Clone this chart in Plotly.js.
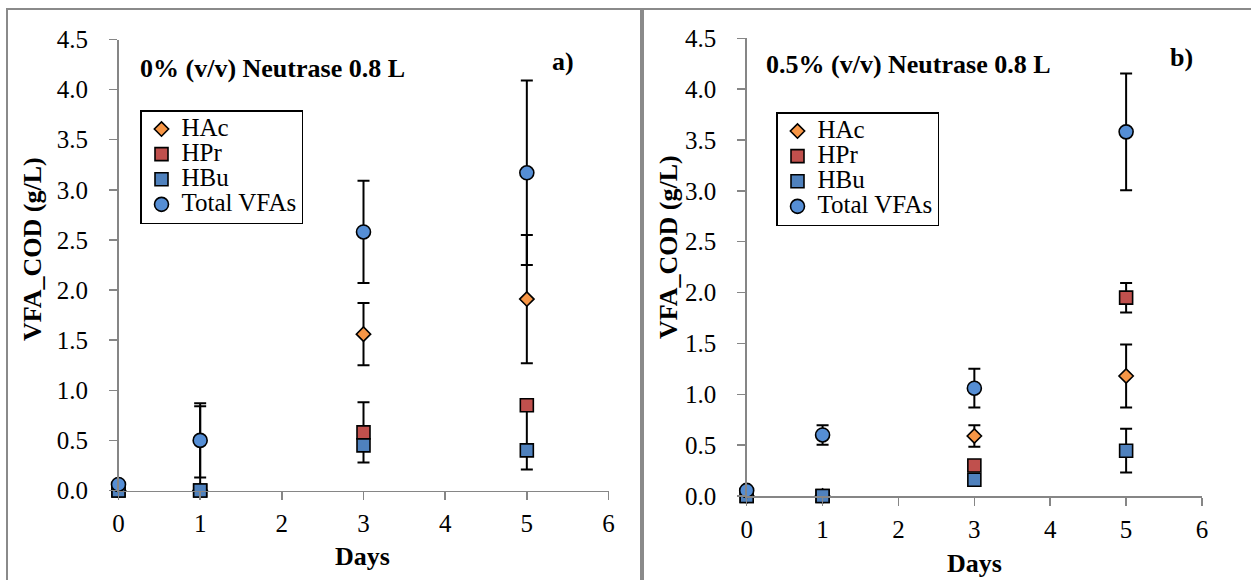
<!DOCTYPE html>
<html>
<head>
<meta charset="utf-8">
<script src="https://cdn.plot.ly/plotly-3.0.1.min.js"></script>
<style>html,body{margin:0;padding:0;background:#fff}#chart{width:1251px;height:580px}</style>
</head>
<body>
<div id="chart"></div>
<script>
// ---- data ----
const days = [0, 1, 3, 5];
const seriesNames = ["HAc", "HPr", "HBu", "Total VFAs"];
const xTicks = [0, 1, 2, 3, 4, 5, 6];
const yTicks = [0, 0.5, 1.0, 1.5, 2.0, 2.5, 3.0, 3.5, 4.0, 4.5];
const yTickText = ["0.0", "0.5", "1.0", "1.5", "2.0", "2.5", "3.0", "3.5", "4.0", "4.5"];

// panel a) 0% (v/v) Neutrase 0.8 L
const hacA = [0, 0, 1.56, 1.91];
const hacA_up = [0, 0.84, 0.31, 0.64];
const hacA_dn = [0, 0, 0.31, 0.64];
const hprA = [0, 0, 0.58, 0.85];
const hprA_up = [0, 0, 0.30, 0];
const hprA_dn = [0, 0, 0.30, 0.64];
const hbuA = [0, 0, 0.45, 0.40];
const hbuA_err = [0, 0, 0, 0];
const totA = [0.06, 0.50, 2.58, 3.17];
const totA_err = [0, 0.37, 0.51, 0.92];

// panel b) 0.5% (v/v) Neutrase 0.8 L
const hacB = [0, 0, 0.59, 1.18];
const hacB_err = [0, 0, 0.105, 0.31];
const hprB = [0, 0, 0.30, 1.95];
const hprB_err = [0, 0, 0, 0.145];
const hbuB = [0, 0, 0.16, 0.445];
const hbuB_err = [0, 0, 0, 0.215];
const totB = [0.055, 0.60, 1.06, 3.58];
const totB_err = [0, 0.095, 0.19, 0.575];

const panelTitles = ["0% (v/v) Neutrase 0.8 L", "0.5% (v/v) Neutrase 0.8 L"];
const panelLabels = ["a)", "b)"];
const xTitle = "Days";
const yTitle = "VFA_COD (g/L)";

// ---- styling ----
const W = 1251, H = 580;
const px = x => x / W;
const py = y => 1 - y / H;
const FONT = "Liberation Serif";
const styles = [
  {symbol: "diamond", size: 11, color: "#F79646"},
  {symbol: "square", size: 13, color: "#C0504D"},
  {symbol: "square", size: 13, color: "#4F81BD"},
  {symbol: "circle", size: 14, color: "#558ED5"}
];

function mk(i, x, y, up, dn, xa, ya, lg) {
  const s = styles[i];
  return {
    type: "scatter", mode: "markers", x: x, y: y,
    name: '<span style="font-size:25px">' + seriesNames[i] + '</span>',
    xaxis: xa, yaxis: ya,
    showlegend: true, legend: lg, cliponaxis: false,
    marker: {symbol: s.symbol, size: s.size, color: s.color, line: {color: "#000", width: 1.6}},
    error_y: {type: "data", symmetric: false, array: up, arrayminus: dn,
              color: "#000", thickness: 2, width: 6, visible: true}
  };
}

const traces = [
  mk(0, days, hacA, hacA_up, hacA_dn, "x", "y", "legend"),
  mk(1, days, hprA, hprA_up, hprA_dn, "x", "y", "legend"),
  mk(2, days, hbuA, hbuA_err, hbuA_err, "x", "y", "legend"),
  mk(3, days, totA, totA_err, totA_err, "x", "y", "legend"),
  mk(0, days, hacB, hacB_err, hacB_err, "x2", "y2", "legend2"),
  mk(1, days, hprB, hprB_err, hprB_err, "x2", "y2", "legend2"),
  mk(2, days, hbuB, hbuB_err, hbuB_err, "x2", "y2", "legend2"),
  mk(3, days, totB, totB_err, totB_err, "x2", "y2", "legend2")
];

function xax(domain, anchor) {
  return {domain: domain, anchor: anchor, range: [0, 6], tickvals: xTicks,
    showgrid: false, zeroline: false, showline: true, linecolor: "#868686", linewidth: 1.5,
    ticks: "outside", ticklen: 8, tickwidth: 1.5, tickcolor: "#868686",
    ticklabelstandoff: 2,
    tickfont: {family: FONT, size: 25, color: "#000"}};
}
function yax(domain, anchor) {
  return {domain: domain, anchor: anchor, range: [0, 4.5], tickvals: yTicks, ticktext: yTickText,
    showgrid: false, zeroline: false, showline: true, linecolor: "#868686", linewidth: 1.5,
    ticks: "outside", ticklen: 8, tickwidth: 1.5, tickcolor: "#868686",
    ticklabelstandoff: 16,
    tickfont: {family: FONT, size: 25, color: "#000"}};
}

function legendAt(x, y) {
  return {x: px(x), y: py(y), xanchor: "left", yanchor: "top",
    bgcolor: "#fff", bordercolor: "#000", borderwidth: 1.5,
    font: {family: FONT, size: 17, color: "#000"}, tracegroupgap: 0, itemwidth: 30};
}

function ann(text, x, y, size, bold, angle) {
  return {text: bold ? "<b>" + text + "</b>" : text, x: px(x), y: py(y), xref: "paper", yref: "paper",
    showarrow: false, xanchor: "center", yanchor: "middle", textangle: angle || 0,
    font: {family: FONT, size: size, color: "#000"}};
}

const layout = {
  width: W, height: H, margin: {l: 0, r: 0, t: 0, b: 0},
  font: {family: FONT, color: "#000"},
  paper_bgcolor: "#fff", plot_bgcolor: "rgba(0,0,0,0)",
  xaxis: xax([px(118.5), px(608.5)], "y"),
  yaxis: yax([py(490.5), py(39.5)], "x"),
  xaxis2: xax([px(746.7), px(1202)], "y2"),
  yaxis2: yax([py(496), py(38.3)], "x2"),
  legend: legendAt(140, 110),
  legend2: legendAt(776, 112),
  annotations: [
    ann(panelTitles[0], 272, 68, 26, true),
    ann(panelLabels[0], 563, 61, 26, true),
    ann(panelTitles[1], 908, 64, 26, true),
    ann(panelLabels[1], 1181, 57, 26, true),
    ann(xTitle, 363, 556, 26, true),
    ann(xTitle, 974, 563, 26, true),
    ann(yTitle, 32, 249, 26, true, -90),
    ann(yTitle, 668, 247, 26, true, -90)
  ],
  shapes: [
    {type: "rect", xref: "paper", yref: "paper", x0: px(7), x1: px(641), y0: py(9), y1: py(590),
     line: {color: "#8a8a8a", width: 2}},
    {type: "rect", xref: "paper", yref: "paper", x0: px(643), x1: px(1265), y0: py(9), y1: py(590),
     line: {color: "#8a8a8a", width: 2}}
  ],
  showlegend: true
};

Plotly.newPlot("chart", traces, layout, {displayModeBar: false, staticPlot: true});
</script>
</body>
</html>
